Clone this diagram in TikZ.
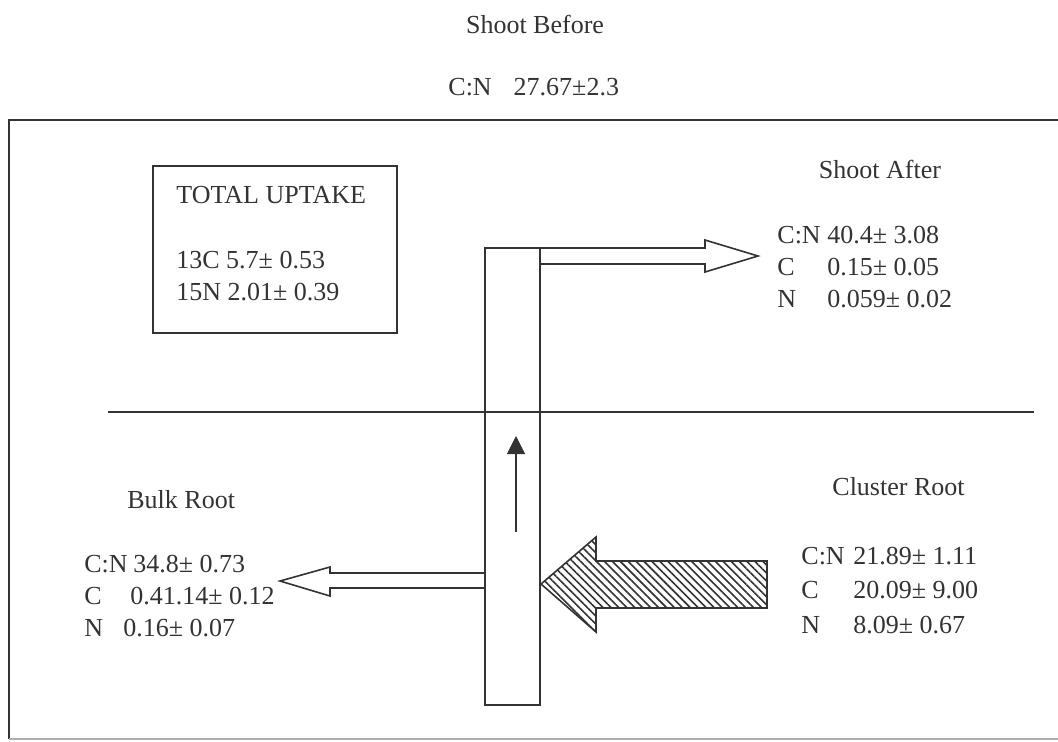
\documentclass[tikz,border=0pt]{standalone}
\usepackage{fontspec}
\setmainfont{Liberation Serif}
\usetikzlibrary{arrows.meta,patterns.meta}
\definecolor{ink}{gray}{0.2}
\tikzset{
  txt/.style={inner sep=0pt, anchor=base west, text=ink, font=\fontsize{13}{15}\selectfont},
  ctxt/.style={txt, anchor=base},
  frame/.style={draw=ink, line width=1pt},
  thin/.style={draw=ink, line width=0.8pt},
  hollow/.style={draw=ink, line width=0.8pt, fill=white, line join=miter},
  hatched/.style={draw=ink, line width=0.8pt, pattern={Lines[angle=-45,distance=2.8pt,line width=0.8pt]}, pattern color=ink}
}
\newcommand{\lab}[2]{\makebox[#1][l]{#2}}
\begin{document}
\begin{tikzpicture}[x=0.5pt,y=-0.5pt]
\useasboundingbox (0,0) rectangle (1058,741);
\fill[white] (0,0) rectangle (1058,741);

% title
\node[ctxt] (sbefore) at (535,33) {Shoot Before};
\node[txt] (sbeforecn) at (448,95) {C:N\hspace{11pt}27.67±2.3};

% outer frame
\coordinate (frTR) at (1058,120);
\coordinate (frTL) at (9,120);
\coordinate (frBL) at (9,739);
\coordinate (frBR) at (1058,739);
\draw[frame] (frTR) -- (frTL) -- (frBL);
\draw[draw=ink!40, line width=0.8pt] (frBL) -- (frBR);

% ground line
\coordinate (gL) at (108,412);
\coordinate (gR) at (1034,412);
\draw[thin] (gL) -- (gR);

% total uptake box
\coordinate (tuNW) at (153,166);
\coordinate (tuSE) at (397,333);
\draw[thin] (tuNW) rectangle (tuSE);
\node[txt] (tutitle) at (176,203) {TOTAL UPTAKE};
\node[txt] (tuC) at (176,268) {13C 5.7± 0.53};
\node[txt] (tuN) at (176,300) {15N 2.01± 0.39};

% shoot after arrow (hollow)
\draw[hollow] (540,248) -- (705,248) -- (705,240) -- (758,256) -- (705,272) -- (705,264) -- (540,264);

% bulk root arrow (hollow)
\draw[hollow] (485,573) -- (330,573) -- (330,567) -- (280,581) -- (330,596) -- (330,588) -- (485,588);

% cluster root arrow (hatched)
\draw[hatched] (767,561) -- (596,561) -- (596,537) -- (541,584) -- (596,632) -- (596,608) -- (767,608) -- cycle;

% vertical bar
\coordinate (barNW) at (485,248);
\coordinate (barSE) at (540,705);
\draw[thin] (barNW) rectangle (barSE);

% small upward arrow
\coordinate (upS) at (516,532);
\coordinate (upN) at (516,436);
\draw[draw=ink, line width=0.6pt, -{Triangle[length=9pt,width=9pt]}] (upS) -- (upN);

% shoot after text
\node[ctxt] (satitle) at (880,178) {Shoot After};
\node[txt] (sa1) at (777,243) {\lab{25pt}{C:N}40.4± 3.08};
\node[txt] (sa2) at (777,275) {\lab{25pt}{C}0.15± 0.05};
\node[txt] (sa3) at (777,307) {\lab{25pt}{N}0.059± 0.02};

% bulk root text
\node[txt] (brtitle) at (127,508) {Bulk Root};
\node[txt] (br1) at (84,572) {\lab{24.5pt}{C:N}34.8± 0.73};
\node[txt] (br2) at (84,604) {\lab{23pt}{C}0.41.14± 0.12};
\node[txt] (br3) at (84,636) {\lab{19.5pt}{N}0.16± 0.07};

% cluster root text
\node[txt] (crtitle) at (832,495) {Cluster Root};
\node[txt] (cr1) at (801,564) {\lab{26pt}{C:N}21.89± 1.11};
\node[txt] (cr2) at (801,598) {\lab{26pt}{C}20.09± 9.00};
\node[txt] (cr3) at (801,633) {\lab{26pt}{N}8.09± 0.67};
\end{tikzpicture}
\end{document}
